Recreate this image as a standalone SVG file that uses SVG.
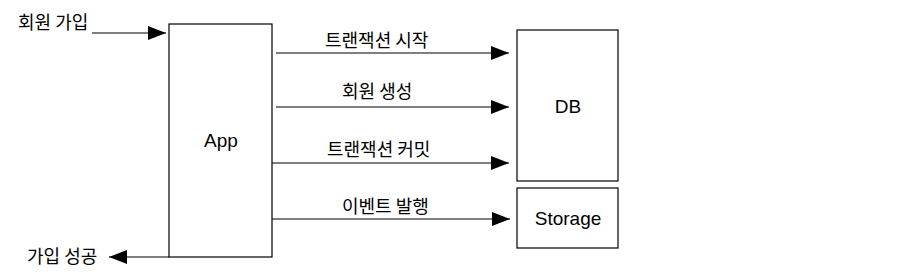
<svg xmlns="http://www.w3.org/2000/svg" width="920" height="279" viewBox="0 0 920 279">
<style>
.box{fill:#fff;stroke:#000;stroke-width:1.2}
.ln{stroke:#000;stroke-width:1.2;fill:none}
.lbl{font-family:"Liberation Sans",Arial,sans-serif;font-size:19px;fill:#000;text-anchor:middle}
.kr{font-family:"Noto Sans CJK KR","Liberation Sans",sans-serif;font-size:18px;fill:#000}
</style>
<defs>
<marker id="ah" markerWidth="18" markerHeight="14" refX="18" refY="7" orient="auto" markerUnits="userSpaceOnUse">
<path d="M0,0 L18,7 L0,14 Z" fill="#000"/>
</marker>
</defs>
<rect width="920" height="279" fill="#fff"/>
<g id="app"><rect class="box" x="169" y="24" width="103" height="233"/><text class="lbl" x="221" y="147">App</text></g>
<g id="db"><rect class="box" x="517" y="30" width="101" height="151"/><text class="lbl" x="568" y="113">DB</text></g>
<g id="storage"><rect class="box" x="517" y="188" width="101" height="60"/><text class="lbl" x="568" y="225">Storage</text></g>
<g id="connectors">
<line class="ln" x1="92" y1="33" x2="166" y2="33" marker-end="url(#ah)"/>
<line class="ln" x1="169" y1="257" x2="109" y2="257" marker-end="url(#ah)"/>
<line class="ln" x1="276" y1="53" x2="509" y2="53" marker-end="url(#ah)"/>
<line class="ln" x1="276" y1="107" x2="509" y2="107" marker-end="url(#ah)"/>
<line class="ln" x1="272" y1="163" x2="509" y2="163" marker-end="url(#ah)"/>
<line class="ln" x1="272" y1="219" x2="510" y2="219" marker-end="url(#ah)"/>
</g>
<g id="labels">
<text class="kr" x="18" y="29">회원 가입</text>
<text class="kr" x="27" y="263">가입 성공</text>
<text class="kr" x="325" y="47">트랜잭션 시작</text>
<text class="kr" x="342" y="98">회원 생성</text>
<text class="kr" x="327" y="156">트랜잭션 커밋</text>
<text class="kr" x="342" y="213">이벤트 발행</text>
</g>
</svg>
